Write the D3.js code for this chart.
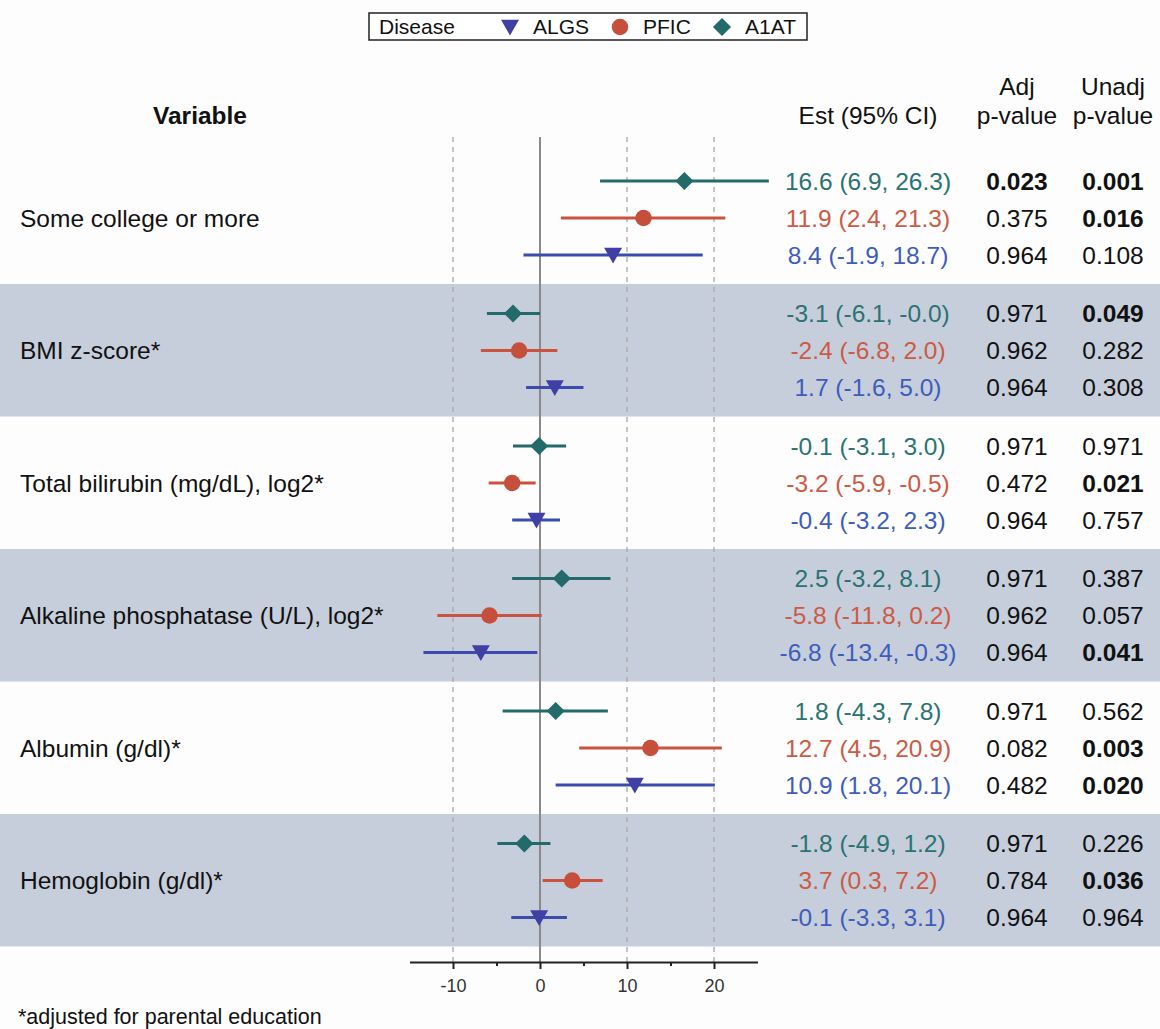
<!DOCTYPE html>
<html lang="en">
    <head>
        <meta charset="utf-8">
        <script type="text/javascript" src="https://d3js.org/d3.v7.min.js"></script>
        <style type="text/css">
          body { margin: 0; background: #fdfdfe; }
          svg text { font-family: "Liberation Sans", Arial, sans-serif; }
        </style>
    </head>
    <body>
      <script type="text/javascript">
        // variables (rows of the forest plot)
        var variables = ["Some college or more", "BMI z-score*", "Total bilirubin (mg/dL), log2*",
                         "Alkaline phosphatase (U/L), log2*", "Albumin (g/dl)*", "Hemoglobin (g/dl)*"];
        // order the diseases are drawn inside each group (top to bottom)
        var diseases = ["A1AT", "PFIC", "ALGS"];
        // legend order
        var legendOrder = ["ALGS", "PFIC", "A1AT"];

        var a1atEst = [16.6, -3.1, -0.1, 2.5, 1.8, -1.8];
        var a1atLo = [6.9, -6.1, -3.1, -3.2, -4.3, -4.9];
        var a1atHi = [26.3, -0.0, 3.0, 8.1, 7.8, 1.2];
        var a1atAdjP = ["0.023", "0.971", "0.971", "0.971", "0.971", "0.971"];
        var a1atUnadjP = ["0.001", "0.049", "0.971", "0.387", "0.562", "0.226"];

        var pficEst = [11.9, -2.4, -3.2, -5.8, 12.7, 3.7];
        var pficLo = [2.4, -6.8, -5.9, -11.8, 4.5, 0.3];
        var pficHi = [21.3, 2.0, -0.5, 0.2, 20.9, 7.2];
        var pficAdjP = ["0.375", "0.962", "0.472", "0.962", "0.082", "0.784"];
        var pficUnadjP = ["0.016", "0.282", "0.021", "0.057", "0.003", "0.036"];

        var algsEst = [8.4, 1.7, -0.4, -6.8, 10.9, -0.1];
        var algsLo = [-1.9, -1.6, -3.2, -13.4, 1.8, -3.3];
        var algsHi = [18.7, 5.0, 2.3, -0.3, 20.1, 3.1];
        var algsAdjP = ["0.964", "0.964", "0.964", "0.964", "0.482", "0.964"];
        var algsUnadjP = ["0.108", "0.308", "0.757", "0.041", "0.020", "0.964"];

        var majorTicks = [-10, 0, 10, 20];
        var minorTicks = [-5, 5, 15];
        var gridTicks = [-10, 10, 20];

        var series = {
          A1AT: {est: a1atEst, lo: a1atLo, hi: a1atHi, adj: a1atAdjP, unadj: a1atUnadjP},
          PFIC: {est: pficEst, lo: pficLo, hi: pficHi, adj: pficAdjP, unadj: pficUnadjP},
          ALGS: {est: algsEst, lo: algsLo, hi: algsHi, adj: algsAdjP, unadj: algsUnadjP}
        };

        // colours
        var markColor = {A1AT: "#236a6b", PFIC: "#c64f3c", ALGS: "#4040a4"};
        var lineColor = {A1AT: "#236a6b", PFIC: "#c9533f", ALGS: "#3c4cae"};
        var textColor = {A1AT: "#2a7373", PFIC: "#cc5a45", ALGS: "#3d5dbd"};

        var w = 1160;
        var h = 1029;
        var svg = d3.select("body").append("svg").attr("width", w).attr("height", h);

        // scales
        var xScale = d3.scaleLinear().domain([-15, 25]).range([409.5, 757.5]);
        var groupScale = d3.scaleBand().domain(variables).range([151.5, 946.5]);
        var rowScale = d3.scalePoint().domain(diseases).range([29.5, 103.5]);

        var estX = 868, adjX = 1017, unadjX = 1113;
        var axisY = 962;
        var fs = "24.5px";

        // flatten the arrays into rows
        var rows = [];
        variables.forEach(function(v, i) {
          diseases.forEach(function(d) {
            var s = series[d];
            rows.push({variable: v, disease: d, est: s.est[i], lo: s.lo[i], hi: s.hi[i],
                       adj: s.adj[i], unadj: s.unadj[i]});
          });
        });
        function rowY(r) { return groupScale(r.variable) + rowScale(r.disease); }
        function fmt(v) { return (Object.is(v, -0) ? "-" : "") + v.toFixed(1); }

        // shaded bands
        svg.selectAll("rect.band")
           .data(variables.filter(function(v, i) { return i % 2 == 1; }))
           .enter()
           .append("rect")
           .attr("class", "band")
           .attr("x", 0)
           .attr("width", w)
           .attr("y", function(v) { return groupScale(v); })
           .attr("height", groupScale.bandwidth())
           .attr("fill", "#c6cedc");

        // dashed reference lines
        svg.selectAll("line.grid")
           .data(gridTicks)
           .enter()
           .append("line")
           .attr("x1", function(d) { return xScale(d); })
           .attr("x2", function(d) { return xScale(d); })
           .attr("y1", 137)
           .attr("y2", axisY)
           .attr("stroke", "#a9a9a9")
           .attr("stroke-width", 1.3)
           .attr("stroke-dasharray", "5,5");

        // zero line
        svg.append("line")
           .attr("x1", xScale(0)).attr("x2", xScale(0))
           .attr("y1", 137).attr("y2", axisY)
           .attr("stroke", "#8a8a8a")
           .attr("stroke-width", 2);

        // CI lines
        svg.selectAll("line.ci")
           .data(rows)
           .enter()
           .append("line")
           .attr("x1", function(r) { return xScale(r.lo); })
           .attr("x2", function(r) { return xScale(r.hi); })
           .attr("y1", rowY)
           .attr("y2", rowY)
           .attr("stroke", function(r) { return lineColor[r.disease]; })
           .attr("stroke-width", 3);

        // markers
        function symbolFor(d) {
          if (d == "ALGS") return d3.symbol().type(d3.symbolTriangle).size(140)();
          if (d == "PFIC") return d3.symbol().type(d3.symbolCircle).size(215)();
          return d3.symbol().type(d3.symbolSquare).size(165)();
        }
        function rotFor(d) {
          if (d == "ALGS") return " rotate(180)";
          if (d == "A1AT") return " rotate(45)";
          return "";
        }
        svg.selectAll("path.mark")
           .data(rows)
           .enter()
           .append("path")
           .attr("d", function(r) { return symbolFor(r.disease); })
           .attr("transform", function(r) {
             var dy = r.disease == "ALGS" ? -2 : 0;
             return "translate(" + xScale(r.est) + "," + (rowY(r) + dy) + ")" + rotFor(r.disease);
           })
           .attr("fill", function(r) { return markColor[r.disease]; });

        // estimate text
        svg.selectAll("text.est")
           .data(rows)
           .enter()
           .append("text")
           .attr("x", estX)
           .attr("y", function(r) { return rowY(r) + 8.5; })
           .attr("text-anchor", "middle")
           .attr("font-size", fs)
           .attr("fill", function(r) { return textColor[r.disease]; })
           .text(function(r) { return fmt(r.est) + " (" + fmt(r.lo) + ", " + fmt(r.hi) + ")"; });

        // p-values
        [["adj", adjX], ["unadj", unadjX]].forEach(function(c) {
          svg.selectAll("text." + c[0])
             .data(rows)
             .enter()
             .append("text")
             .attr("x", c[1])
             .attr("y", function(r) { return rowY(r) + 8.5; })
             .attr("text-anchor", "middle")
             .attr("font-size", fs)
             .attr("font-weight", function(r) { return +r[c[0]] < 0.05 ? "bold" : "normal"; })
             .attr("fill", "#111")
             .text(function(r) { return r[c[0]]; });
        });

        // variable labels
        svg.selectAll("text.var")
           .data(variables)
           .enter()
           .append("text")
           .attr("x", 20)
           .attr("y", function(v) { return groupScale(v) + rowScale("PFIC") + 8.5; })
           .attr("font-size", fs)
           .attr("fill", "#111")
           .text(function(v) { return v; });

        // headers
        svg.append("text").attr("x", 200).attr("y", 124).attr("text-anchor", "middle")
           .attr("font-size", fs).attr("font-weight", "bold").attr("fill", "#111").text("Variable");
        svg.append("text").attr("x", estX).attr("y", 124).attr("text-anchor", "middle")
           .attr("font-size", fs).attr("fill", "#111").text("Est (95% CI)");
        [["Adj", adjX], ["Unadj", unadjX]].forEach(function(c) {
          svg.append("text").attr("x", c[1]).attr("y", 95).attr("text-anchor", "middle")
             .attr("font-size", fs).attr("fill", "#111").text(c[0]);
          svg.append("text").attr("x", c[1]).attr("y", 124).attr("text-anchor", "middle")
             .attr("font-size", fs).attr("fill", "#111").text("p-value");
        });

        // x axis
        var xAxis = d3.axisBottom(xScale).tickValues(majorTicks).tickSize(7).tickSizeOuter(0)
                      .tickPadding(10).tickFormat(function(d) { return String(d); });
        var gx = svg.append("g")
           .attr("transform", "translate(0," + axisY + ")")
           .call(xAxis);
        gx.select(".domain").attr("stroke", "#222").attr("stroke-width", 2);
        gx.selectAll(".tick line").attr("stroke", "#222").attr("stroke-width", 2);
        gx.selectAll(".tick text").attr("font-size", "18px").attr("fill", "#333")
          .attr("font-family", "Liberation Sans, Arial, sans-serif");
        var gMinor = svg.append("g")
           .attr("transform", "translate(0," + axisY + ")")
           .call(d3.axisBottom(xScale).tickValues(minorTicks).tickSize(4).tickSizeOuter(0).tickFormat(""));
        gMinor.select(".domain").remove();
        gMinor.selectAll(".tick line").attr("stroke", "#222").attr("stroke-width", 2);

        // legend
        var legend = svg.append("g");
        legend.append("rect").attr("x", 369).attr("y", 13).attr("width", 438).attr("height", 27)
              .attr("fill", "#fff").attr("stroke", "#222").attr("stroke-width", 1.5);
        legend.append("text").attr("x", 379).attr("y", 34).attr("font-size", "21px").attr("fill", "#111").text("Disease");
        var legendX = {ALGS: 510, PFIC: 620, A1AT: 722};
        legendOrder.forEach(function(d) {
          legend.append("path")
                .attr("d", symbolFor(d))
                .attr("transform", "translate(" + legendX[d] + "," + (d == "ALGS" ? 25 : 27) + ")" + rotFor(d))
                .attr("fill", markColor[d]);
          legend.append("text").attr("x", legendX[d] + 23).attr("y", 34)
                .attr("font-size", "21px").attr("fill", "#111").text(d);
        });

        // footnote
        svg.append("text").attr("x", 18).attr("y", 1024).attr("font-size", "21.5px")
           .attr("fill", "#111").text("*adjusted for parental education");
      </script>
    </body>
</html>
